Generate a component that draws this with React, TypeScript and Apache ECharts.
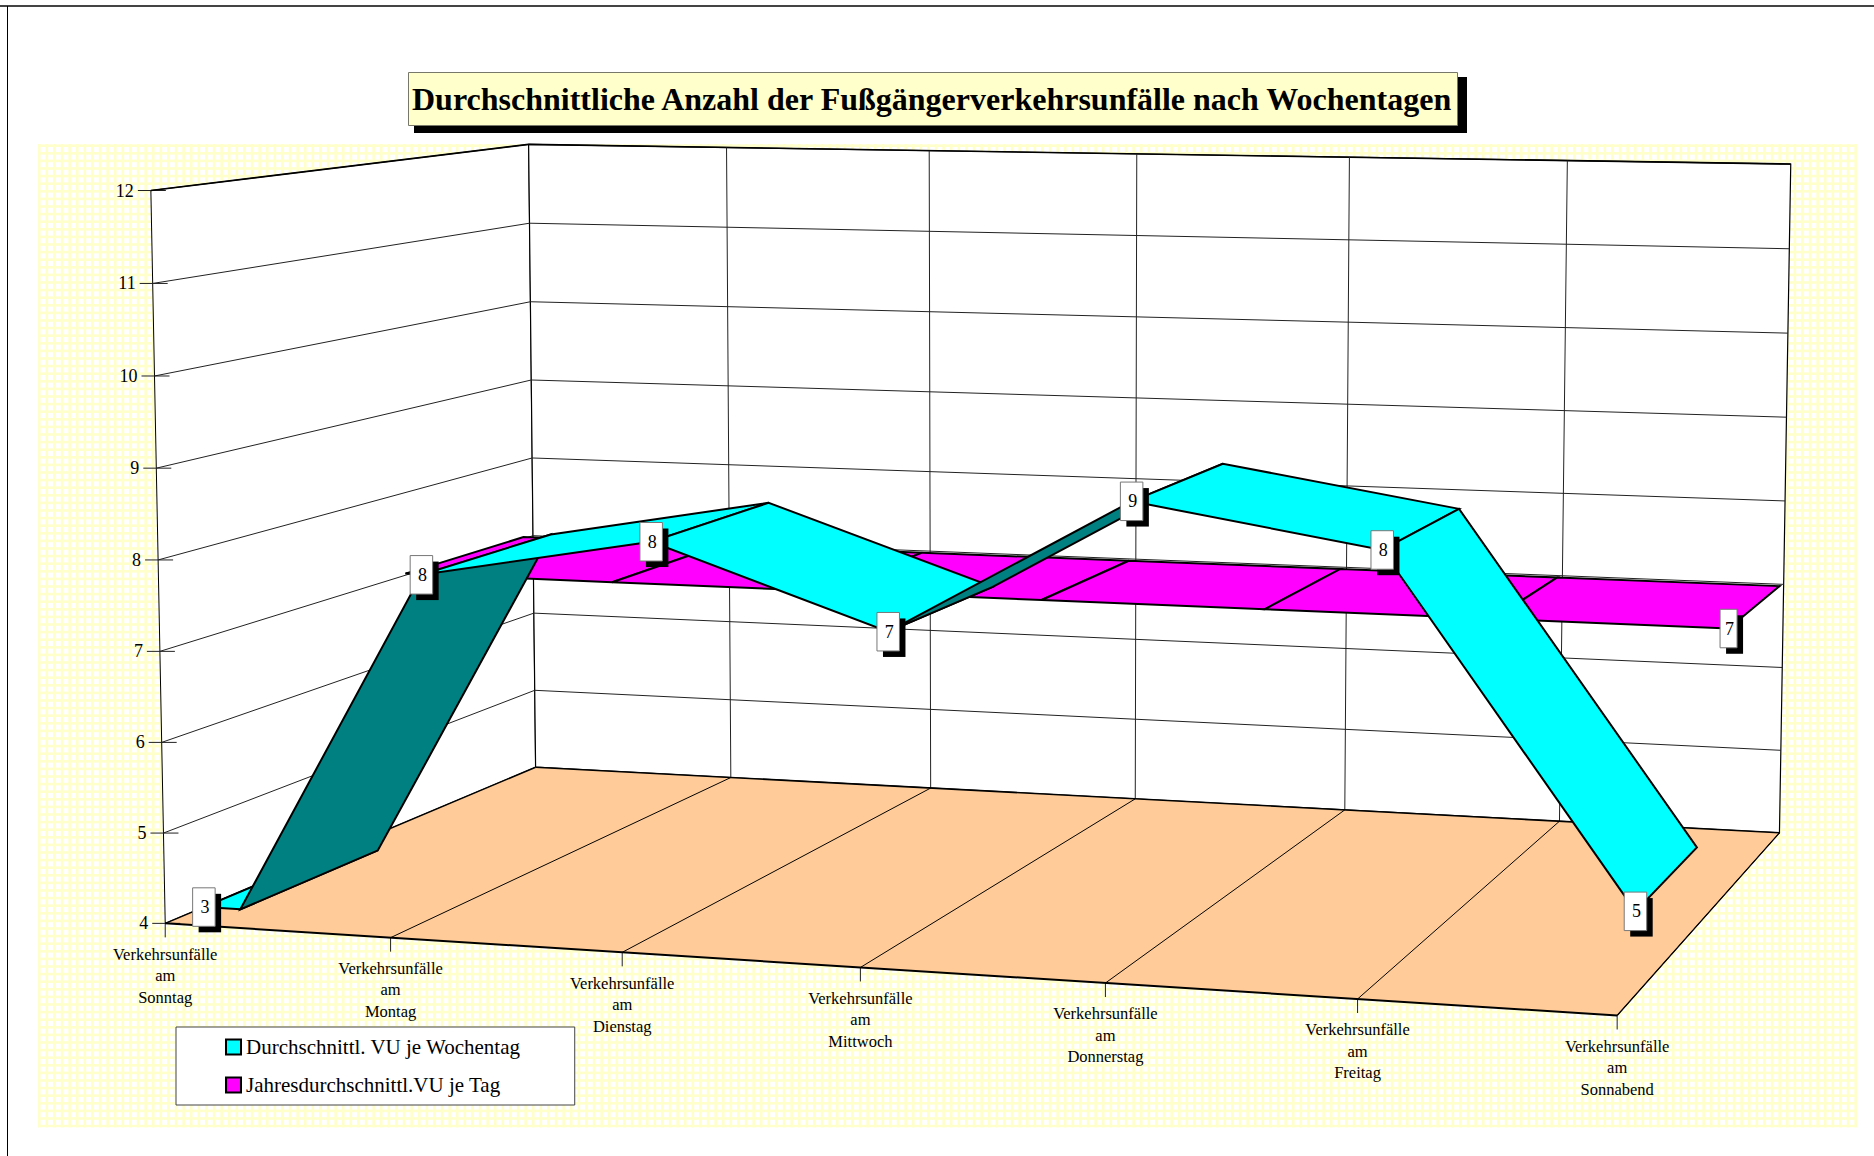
import React, { useEffect, useRef } from "react";
import * as echarts from "echarts";

const titleText = "Durchschnittliche Anzahl der Fußgängerverkehrsunfälle nach Wochentagen";
const weekdays = ["Sonntag", "Montag", "Dienstag", "Mittwoch", "Donnerstag", "Freitag", "Sonnabend"];
const valueTicks = [4, 5, 6, 7, 8, 9, 10, 11, 12];
const weekdayAverage = [3.24, 7.82, 8.28, 7.42, 8.9, 8.49, 4.88];
const yearlyAverage = [7.02, 7.02, 7.02, 7.02, 7.02, 7.02, 7.02];
const weekdayName = "Durchschnittl. VU je Wochentag";
const yearlyName = "Jahresdurchschnittl.VU je Tag";

const WIDTH = 1874;
const HEIGHT = 1156;
const FONT = '"Liberation Serif", "Times New Roman", serif';
const AXIS_MIN = 4;
const AXIS_MAX = 12;
const WEEK_DEPTH = [0.09, 0.44];
const YEAR_DEPTH = [0.62, 0.97];

// Camera calibration: [weekday index, value, depth, screen x, screen y]
const calibration: number[][] = [
  [0, 4, 0, 166, 924], [1, 4, 0, 391, 938], [2, 4, 0, 622.5, 952.5], [3, 4, 0, 860.5, 968],
  [4, 4, 0, 1105.5, 983.5], [5, 4, 0, 1356.5, 999], [6, 4, 0, 1617, 1016],
  [0, 4, 1, 535, 767], [1, 4, 1, 730, 778], [2, 4, 1, 930, 787.6], [3, 4, 1, 1134, 798],
  [4, 4, 1, 1347, 810], [5, 4, 1, 1561, 821], [6, 4, 1, 1779, 833],
  [0, 12, 1, 528.6, 145], [1, 12, 1, 727, 148], [2, 12, 1, 930, 151], [3, 12, 1, 1137, 154],
  [4, 12, 1, 1349, 157.5], [5, 12, 1, 1567.7, 160.7], [6, 12, 1, 1791, 163.7],
  [0, 12, 0, 150.4, 190], [0, 11, 0, 152, 283.7], [0, 10, 0, 154.6, 376.3], [0, 9, 0, 156, 467.3],
  [0, 8, 0, 158, 559], [0, 7, 0, 160, 651], [0, 6, 0, 162, 742], [0, 5, 0, 164, 833],
  [0, 11, 1, 529.5, 223], [0, 10, 1, 530, 302], [0, 9, 1, 531.5, 380],
  [6, 11, 1, 1789, 248.3], [6, 8, 1, 1784.7, 500.7], [6, 7, 1, 1783.5, 584], [6, 6, 1, 1782, 667.7], [6, 5, 1, 1780.5, 750.3],
];

function fitCamera(points: number[][]) {
  const n = 11;
  const ata = Array.from({ length: n }, () => new Array(n + 1).fill(0));
  const add = (row: number[], rhs: number) => {
    for (let a = 0; a < n; a++) {
      for (let b = 0; b < n; b++) ata[a][b] += row[a] * row[b];
      ata[a][n] += row[a] * rhs;
    }
  };
  points.forEach(([i, val, z, sx, sy]) => {
    const y = val - AXIS_MIN;
    const u = sx / 1000;
    const v = sy / 1000;
    add([i, y, z, 1, 0, 0, 0, 0, -u * i, -u * y, -u * z], u);
    add([0, 0, 0, 0, i, y, z, 1, -v * i, -v * y, -v * z], v);
  });
  for (let c = 0; c < n; c++) {
    let pivot = c;
    for (let r = c + 1; r < n; r++) if (Math.abs(ata[r][c]) > Math.abs(ata[pivot][c])) pivot = r;
    [ata[c], ata[pivot]] = [ata[pivot], ata[c]];
    for (let r = 0; r < n; r++) {
      if (r === c) continue;
      const f = ata[r][c] / ata[c][c];
      for (let k = c; k <= n; k++) ata[r][k] -= f * ata[c][k];
    }
  }
  return ata.map((row, idx) => row[n] / row[idx]);
}

const camera = fitCamera(calibration);

// The hidden cartesian grid supplies the scale: 100 px per weekday and per value unit.
const GRID = { left: 0, top: 0, width: 600, height: 800 };

function project(pixel: number[], z: number): number[] {
  const x = (pixel[0] - GRID.left) / 100;
  const y = AXIS_MAX - AXIS_MIN - (pixel[1] - GRID.top) / 100;
  const p = camera;
  const w = p[8] * x + p[9] * y + p[10] * z + 1;
  return [
    (1000 * (p[0] * x + p[1] * y + p[2] * z + p[3])) / w,
    (1000 * (p[4] * x + p[5] * y + p[6] * z + p[7])) / w,
  ];
}

const line = (a: number[], b: number[], width = 1, color = "#000") => ({
  type: "line",
  shape: { x1: a[0], y1: a[1], x2: b[0], y2: b[1] },
  style: { stroke: color, lineWidth: width },
});

const text = (s: string, x: number, y: number, size: number, align = "center", extra: any = {}) => ({
  type: "text",
  style: { text: s, x, y, fill: "#000", font: `${size}px ${FONT}`, align, verticalAlign: "middle", ...extra },
});

function renderFrame(_: any, api: any) {
  const P = (i: number, v: number, z: number) => project(api.coord([i, v]), z);
  const last = weekdays.length - 1;
  const children: any[] = [];
  children.push({
    type: "polygon",
    shape: { points: [P(0, AXIS_MIN, 0), P(0, AXIS_MAX, 0), P(0, AXIS_MAX, 1), P(0, AXIS_MIN, 1)] },
    style: { fill: "#fff", stroke: "#000", lineWidth: 1 },
  });
  children.push({
    type: "polygon",
    shape: { points: [P(0, AXIS_MIN, 1), P(0, AXIS_MAX, 1), P(last, AXIS_MAX, 1), P(last, AXIS_MIN, 1)] },
    style: { fill: "#fff", stroke: "#000", lineWidth: 1.2 },
  });
  children.push({
    type: "polygon",
    shape: { points: [P(0, AXIS_MIN, 0), P(last, AXIS_MIN, 0), P(last, AXIS_MIN, 1), P(0, AXIS_MIN, 1)] },
    style: { fill: "#FFCC99", stroke: "none" },
  });
  valueTicks.forEach((v) => {
    if (v > AXIS_MIN && v < AXIS_MAX) children.push(line(P(0, v, 0), P(0, v, 1), 1, "#222"));
    if (v > AXIS_MIN && v < AXIS_MAX) children.push(line(P(0, v, 1), P(last, v, 1), 1, "#222"));
    const a = P(0, v, 0);
    children.push(line([a[0] - 13, a[1]], [a[0] + 15, a[1]], 1, "#222"));
    children.push(text(String(v), a[0] - 17, a[1], 18, "right"));
  });
  children.push(line(P(0, AXIS_MAX, 0), P(0, AXIS_MAX, 1), 1.6));
  children.push(line(P(0, AXIS_MAX, 1), P(last, AXIS_MAX, 1), 1.6));
  weekdays.forEach((day, i) => {
    if (i > 0 && i < last) {
      children.push(line(P(i, AXIS_MIN, 1), P(i, AXIS_MAX, 1), 1, "#222"));
    }
    if (i > 0) children.push(line(P(i, AXIS_MIN, 0), P(i, AXIS_MIN, 1), 1));
    const f = P(i, AXIS_MIN, 0);
    children.push(line(f, [f[0], f[1] + 14], 1, "#222"));
    children.push(
      text(`Verkehrsunfälle\nam\n${day}`, f[0], f[1] + 20, 16.5, "center", {
        verticalAlign: "top",
        lineHeight: 21.5,
      }),
    );
  });
  children.push(line(P(0, AXIS_MIN, 0), P(last, AXIS_MIN, 0), 2));
  children.push(line(P(0, AXIS_MIN, 0), P(0, AXIS_MIN, 1), 1.5));
  children.push(line(P(0, AXIS_MIN, 1), P(last, AXIS_MIN, 1), 1.6));
  children.push(line(P(last, AXIS_MIN, 0), P(last, AXIS_MIN, 1), 1.2));
  return { type: "group", children };
}

function ribbonRenderer(values: number[], depth: number[], fill: string, underside: string) {
  return (_: any, api: any) => {
    const i = api.value(0) as number;
    if (i >= values.length - 1) return { type: "group", children: [] };
    const v0 = api.value(1) as number;
    const v1 = values[i + 1];
    const quad = (xa: number, va: number, xb: number, vb: number) => {
      const F0 = project(api.coord([xa, va]), depth[0]);
      const F1 = project(api.coord([xb, vb]), depth[0]);
      const B1 = project(api.coord([xb, vb]), depth[1]);
      const B0 = project(api.coord([xa, va]), depth[1]);
      const cross = (F1[0] - F0[0]) * (B0[1] - F0[1]) - (F1[1] - F0[1]) * (B0[0] - F0[0]);
      return {
        type: "polygon",
        shape: { points: [F0, F1, B1, B0] },
        style: { fill: cross > 0 ? underside : fill, stroke: "#000", lineWidth: 2, lineJoin: "miter" },
      };
    };
    const children: any[] = [];
    if (v0 < AXIS_MIN && v1 > AXIS_MIN) {
      const t = (AXIS_MIN - v0) / (v1 - v0);
      children.push(quad(i, AXIS_MIN, i + t, AXIS_MIN));
      children.push(quad(i + t, AXIS_MIN, i + 1, v1));
    } else {
      children.push(quad(i, v0, i + 1, v1));
    }
    return { type: "group", children };
  };
}

function renderLabel(_: any, api: any) {
  const i = api.value(0) as number;
  const v = api.value(1) as number;
  const z = api.value(2) as number;
  const w = api.value(3) as number;
  const c = project(api.coord([i, Math.max(v, AXIS_MIN)]), z);
  const h = 38.5;
  const x = c[0] - w / 2;
  const y = c[1] - h / 2;
  return {
    type: "group",
    children: [
      { type: "rect", shape: { x: x + 6, y: y + 6, width: w, height: h }, style: { fill: "#000" } },
      { type: "rect", shape: { x, y, width: w, height: h }, style: { fill: "#fff", stroke: "#777", lineWidth: 1 } },
      text(String(Math.round(v)), c[0] + 1, c[1], 18),
    ],
  };
}

function makePattern() {
  const canvas = document.createElement("canvas");
  canvas.width = 38;
  canvas.height = 38;
  const ctx = canvas.getContext("2d")!;
  ctx.fillStyle = "#fff";
  ctx.fillRect(0, 0, 38, 38);
  ctx.fillStyle = "#FFFFCC";
  for (let k = 0; k < 5; k++) {
    ctx.fillRect(k * 7.6, 0, 2.6, 38);
    ctx.fillRect(0, k * 7.6, 38, 2.6);
  }
  return canvas;
}

export default function App() {
  const ref = useRef<HTMLDivElement>(null);
  useEffect(() => {
    const chart = echarts.init(ref.current!, undefined, { renderer: "svg" });
    const labelData = [
      ...weekdayAverage.map((v, i) => [i, v, WEEK_DEPTH[0], 22.5]),
      [weekdays.length - 1, yearlyAverage[yearlyAverage.length - 1], YEAR_DEPTH[0], 17],
    ];
    chart.setOption({
      animation: false,
      backgroundColor: "#fff",
      title: {
        text: titleText,
        left: 408,
        top: 72,
        padding: [10, 4, 10, 4],
        backgroundColor: "#FFFFCC",
        borderColor: "#77776A",
        borderWidth: 1,
        textStyle: { fontFamily: FONT, fontWeight: "bold", fontSize: 32, color: "#000", lineHeight: 34 },
      },
      legend: {
        left: 176,
        top: 1027,
        orient: "vertical",
        padding: [9.5, 54, 9.5, 49],
        itemWidth: 15,
        itemHeight: 15,
        itemGap: 17,
        backgroundColor: "#fff",
        borderColor: "#444",
        borderWidth: 1,
        textStyle: { fontFamily: FONT, fontSize: 21, color: "#000", padding: [0, 0, 0, 0] },
        selectedMode: false,
        data: [
          { name: weekdayName, icon: "rect", itemStyle: { color: "#00FFFF", borderColor: "#000", borderWidth: 2 } },
          { name: yearlyName, icon: "rect", itemStyle: { color: "#FF00FF", borderColor: "#000", borderWidth: 2 } },
        ],
      },
      grid: { ...GRID, containLabel: false },
      xAxis: { type: "value", min: 0, max: weekdays.length - 1, show: false },
      yAxis: { type: "value", min: AXIS_MIN, max: AXIS_MAX, show: false },
      graphic: [
        {
          type: "rect",
          z: 0,
          shape: { x: 38, y: 144, width: 1819, height: 983.5 },
          style: { fill: { image: makePattern(), repeat: "repeat" } },
          silent: true,
        },
        { type: "line", z: 0, shape: { x1: 0, y1: 6, x2: WIDTH, y2: 6 }, style: { stroke: "#444", lineWidth: 2 } },
        { type: "line", z: 0, shape: { x1: 7.5, y1: 6, x2: 7.5, y2: HEIGHT }, style: { stroke: "#000", lineWidth: 1 } },
        {
          type: "rect",
          z: 1,
          shape: { x: 414, y: 77, width: 1053, height: 56 },
          style: { fill: "#000" },
          silent: true,
        },
      ],
      series: [
        { type: "custom", name: "Rahmen", silent: true, z: 2, renderItem: renderFrame, data: [[0, AXIS_MIN]] },
        {
          type: "custom",
          name: yearlyName,
          silent: true,
          z: 3,
          renderItem: ribbonRenderer(yearlyAverage, YEAR_DEPTH, "#FF00FF", "#800080"),
          data: yearlyAverage.map((v, i) => [i, v]),
        },
        {
          type: "custom",
          name: weekdayName,
          silent: true,
          z: 4,
          renderItem: ribbonRenderer(weekdayAverage, WEEK_DEPTH, "#00FFFF", "#008080"),
          data: weekdayAverage.map((v, i) => [i, v]),
        },
        { type: "custom", name: "Werte", silent: true, z: 5, renderItem: renderLabel, data: labelData },
      ],
    });
    return () => chart.dispose();
  }, []);
  return <div ref={ref} style={{ position: "fixed", left: 0, top: 0, width: WIDTH, height: HEIGHT }} />;
}
